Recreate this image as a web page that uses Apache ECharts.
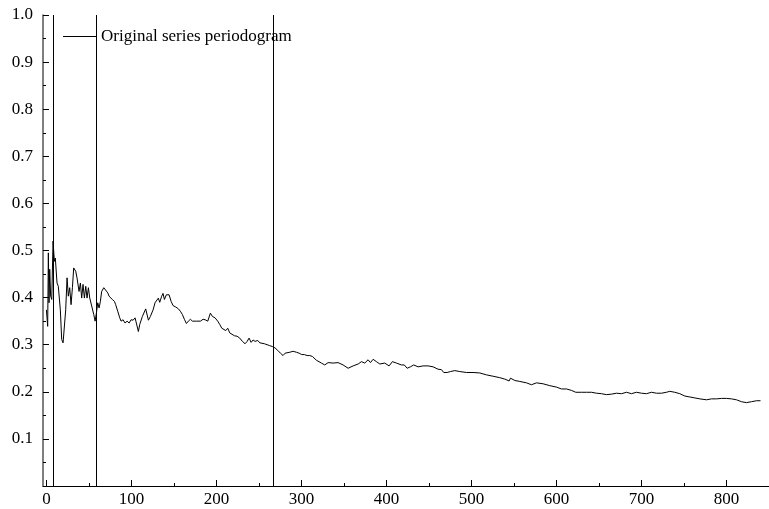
<!DOCTYPE html>
<html>
<head>
<meta charset="utf-8">
<script src="https://cdn.jsdelivr.net/npm/echarts@6/dist/echarts.min.js"></script>
<style>
html,body{margin:0;padding:0;background:#fff;}
#c{width:769px;height:509px;}
</style>
</head>
<body>
<div id="c"></div>
<script>
var seriesName = 'Original series periodogram';
var xTickLabels = [0, 100, 200, 300, 400, 500, 600, 700, 800];
var xMinorTicks = [50, 150, 250, 350, 450, 550, 650, 750];
var markerX = [8, 59, 267];
var xs = [0,1.5,2.3,3.1,3.9,5.0,6.3,7.8,9.4,10.5,12.5,14.0,16.4,18.0,19.6,21.1,22.7,24.3,25.8,27.4,29.0,30.6,32.1,34.5,36.0,38.4,40.0,41.5,43.1,44.7,46.3,47.8,49.4,51.0,53.3,55.7,57.3,58.8,60.4,62.0,63.5,65.0,67.5,69.8,72.2,73.7,75.3,77.6,80.0,81.5,83.9,86.3,87.8,90.2,92.5,94.9,97.3,99.6,102.0,104.3,105.8,108.2,109.8,112.9,116.8,120.0,122.3,125.5,127.8,129.5,131.7,133.3,135.6,137.2,138.8,141.1,142.7,144.3,146.7,149.0,152.2,155.3,157.6,160.0,162.3,164.7,167.0,169.4,171.8,174.1,176.5,178.8,181.2,184.3,186.7,189.8,191.9,192.9,195.3,198.4,201.5,203.9,206.3,208.6,211.0,213.3,215.7,218.0,221.2,224.3,227.4,230.6,233.7,236.1,238.4,240.8,243.1,245.5,248.6,251.0,253.3,256.5,259.6,262.7,265.9,269.0,272.1,275.3,278.4,280.8,283.1,286.3,290.2,294.1,297.3,300.4,303.5,306.7,309.8,312.9,317.6,323.5,327.4,331.4,337.3,343.1,349.0,354.9,360.8,366.7,370.6,374.5,378.4,381.2,384.3,388.2,392.2,398.0,403.1,407.0,411.8,417.6,421.0,424.3,428.2,432.1,437.2,443.1,449.0,454.9,460.7,464.7,467.4,471.4,475.3,480.4,486.3,494.1,501.9,509.8,517.6,525.5,533.3,539.2,544.3,545.9,551.0,556.9,564.7,570.6,576.5,584.3,592.2,600.0,605.9,611.8,617.6,622.7,629.4,635.3,641.2,647.1,652.9,658.8,664.7,670.6,676.5,682.4,688.2,694.1,700.0,705.9,711.8,717.6,723.5,729.4,733.3,739.2,745.1,751.0,756.9,762.7,768.6,776.5,782.4,788.2,794.1,800.0,805.9,811.8,817.6,823.5,829.4,835.3,840.0];
var ys = [0.374,0.339,0.495,0.389,0.460,0.403,0.396,0.520,0.477,0.484,0.431,0.424,0.374,0.311,0.304,0.307,0.374,0.442,0.403,0.421,0.385,0.421,0.463,0.456,0.442,0.413,0.431,0.399,0.428,0.399,0.424,0.399,0.421,0.399,0.382,0.364,0.350,0.367,0.389,0.378,0.392,0.413,0.421,0.417,0.410,0.403,0.399,0.396,0.392,0.385,0.371,0.357,0.350,0.353,0.346,0.350,0.346,0.353,0.352,0.357,0.346,0.328,0.343,0.360,0.376,0.352,0.360,0.374,0.389,0.392,0.399,0.390,0.403,0.409,0.396,0.406,0.402,0.406,0.392,0.383,0.380,0.376,0.371,0.364,0.354,0.345,0.350,0.354,0.350,0.352,0.350,0.353,0.350,0.354,0.353,0.350,0.350,0.367,0.360,0.357,0.350,0.343,0.335,0.333,0.330,0.335,0.325,0.321,0.319,0.318,0.314,0.307,0.302,0.307,0.314,0.305,0.310,0.307,0.309,0.304,0.307,0.302,0.300,0.298,0.296,0.293,0.288,0.282,0.277,0.282,0.286,0.284,0.286,0.284,0.282,0.279,0.279,0.277,0.277,0.275,0.267,0.261,0.257,0.262,0.261,0.262,0.257,0.250,0.255,0.259,0.264,0.261,0.268,0.262,0.269,0.264,0.259,0.261,0.255,0.264,0.261,0.257,0.257,0.250,0.253,0.257,0.253,0.255,0.255,0.253,0.248,0.247,0.241,0.241,0.243,0.245,0.243,0.241,0.241,0.240,0.236,0.233,0.230,0.227,0.223,0.229,0.224,0.222,0.219,0.215,0.219,0.217,0.213,0.210,0.206,0.206,0.203,0.199,0.199,0.199,0.199,0.197,0.196,0.194,0.195,0.197,0.196,0.199,0.196,0.199,0.197,0.196,0.199,0.197,0.197,0.199,0.201,0.199,0.196,0.191,0.189,0.187,0.185,0.183,0.185,0.185,0.186,0.186,0.185,0.183,0.179,0.177,0.179,0.181,0.181];

var points = xs.map(function (x, i) { return [x, ys[i]]; });
var font = 'Liberation Serif, Times New Roman, serif';

var chart = echarts.init(document.getElementById('c'), null, {renderer: 'canvas'});
chart.setOption({
  animation: false,
  backgroundColor: '#fff',
  grid: {left: 43, right: 0, top: 15, bottom: 23, containLabel: false},
  legend: {
    show: true,
    left: 63,
    top: 28,
    padding: 0,
    icon: 'rect',
    itemWidth: 33,
    itemHeight: 1,
    data: [seriesName],
    itemStyle: {color: '#000'},
    textStyle: {fontFamily: font, fontSize: 17, color: '#000'},
    selectedMode: false
  },
  xAxis: [{
    type: 'value',
    min: -4,
    max: 850,
    position: 'bottom',
    axisLine: {show: true, onZero: false, lineStyle: {color: '#000', width: 1}},
    axisTick: {show: true, inside: true, length: 6, customValues: xTickLabels, lineStyle: {color: '#000'}},
    axisLabel: {show: true, customValues: xTickLabels, margin: 5, fontFamily: font, fontSize: 17, color: '#000'},
    splitLine: {show: false}
  }, {
    type: 'value',
    min: -4,
    max: 850,
    position: 'bottom',
    axisLine: {show: false, onZero: false},
    axisTick: {show: true, inside: true, length: 3, customValues: xMinorTicks, lineStyle: {color: '#000'}},
    axisLabel: {show: false},
    splitLine: {show: false}
  }],
  yAxis: {
    type: 'value',
    min: 0,
    max: 1,
    interval: 0.1,
    axisLine: {show: true, onZero: false, lineStyle: {color: '#555', width: 1.5}},
    axisTick: {show: true, inside: true, length: 6, lineStyle: {color: '#000'}},
    minorTick: {show: true, splitNumber: 2, length: 3, lineStyle: {color: '#000'}},
    axisLabel: {
      margin: 10, fontFamily: font, fontSize: 17, color: '#000',
      formatter: function (v) { return v === 0 ? '' : v.toFixed(1); }
    },
    splitLine: {show: false}
  },
  series: [{
    name: seriesName,
    type: 'line',
    xAxisIndex: 0,
    data: points,
    symbol: 'none',
    showSymbol: false,
    lineStyle: {color: '#000', width: 1},
    itemStyle: {color: '#000'},
    markLine: {
      silent: true,
      symbol: ['none', 'none'],
      label: {show: false},
      lineStyle: {color: '#000', type: 'solid', width: 1},
      data: markerX.map(function (x) { return {xAxis: x}; })
    }
  }]
});
</script>
</body>
</html>
